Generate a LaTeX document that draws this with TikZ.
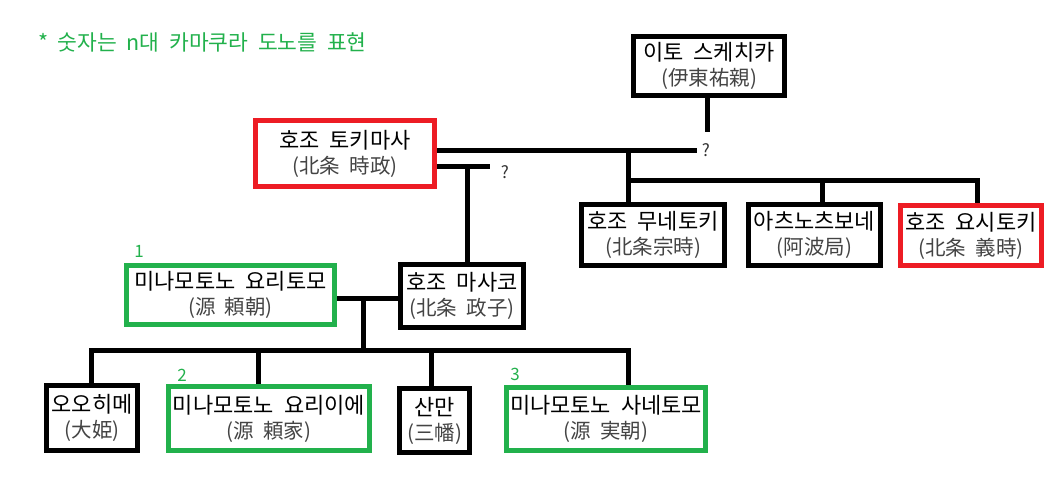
\documentclass[tikz,border=0pt]{standalone}
\usepackage{fontspec}
\usetikzlibrary{backgrounds}
\newfontfamily\kr[WordSpace=2.0]{Noto Sans CJK KR}
\newfontfamily\jp[WordSpace=2.0]{Noto Sans CJK JP}
\definecolor{pgreen}{HTML}{22B14C}
\definecolor{pred}{HTML}{ED1C24}
\definecolor{hzgray}{HTML}{444444}
\newcommand\pnm[2]{\makebox[0pt]{\kr\fontsize{22}{25}\selectfont #1}\\\makebox[0pt]{\jp\fontsize{20.5}{25}\selectfont\color{hzgray}(#2)}}
\tikzset{
  person/.style={draw=black, line width=5pt, align=center, inner sep=0pt, text=black, font=\fontsize{22}{25}\selectfont},
  redperson/.style={person, draw=pred},
  greenperson/.style={person, draw=pgreen},
  link/.style={line width=5pt, draw=black, line join=miter},
  qmark/.style={inner sep=0pt, font=\kr\fontsize{17}{17}\selectfont, text=black!80},
  numlabel/.style={inner sep=0pt, font=\kr\fontsize{17}{17}\selectfont, text=pgreen},
}
\begin{document}
\begin{tikzpicture}[x=1pt,y=-1pt]
\useasboundingbox (0,0) rectangle (1060,486);
% note
\node[anchor=west, inner sep=0pt, text=pgreen, font=\kr\fontsize{21.5}{24}\selectfont] (note) at (38,42) {* 숫자는 n대 카마쿠라 도노를 표현};
% persons
\node[person, minimum width=151pt, minimum height=59pt] (ito) at (709,66) {\pnm{이토 스케치카}{伊東祐親}};
\node[redperson, minimum width=179pt, minimum height=66pt] (tokimasa) at (345,153.5) {\pnm{호조 토키마사}{北条 時政}};
\node[person, minimum width=143pt, minimum height=61pt] (munetoki) at (653,235) {\pnm{호조 무네토키}{北条宗時}};
\node[person, minimum width=132pt, minimum height=61pt] (atsu) at (814.5,235) {\pnm{아츠노츠보네}{阿波局}};
\node[redperson, minimum width=141pt, minimum height=60pt] (yoshitoki) at (971,235.5) {\pnm{호조 요시토키}{北条 義時}};
\node[greenperson, minimum width=208pt, minimum height=59pt] (yoritomo) at (230.5,295) {\pnm{미나모토노 요리토모}{源 頼朝}};
\node[person, minimum width=123pt, minimum height=63pt] (masako) at (462,296) {\pnm{호조 마사코}{北条 政子}};
\node[person, minimum width=91pt, minimum height=65pt] (oohime) at (92,418) {\pnm{오오히메}{大姫}};
\node[greenperson, minimum width=201pt, minimum height=64pt] (yoriie) at (269,418.5) {\pnm{미나모토노 요리이에}{源 頼家}};
\node[person, minimum width=70pt, minimum height=64pt] (sanman) at (434.5,420.5) {\pnm{산만}{三幡}};
\node[greenperson, minimum width=199pt, minimum height=63pt] (sanetomo) at (606,419) {\pnm{미나모토노 사네토모}{源 実朝}};
% labels
\node[qmark] (q1) at (706,150) {?};
\node[qmark] (q2) at (505,172) {?};
\node[numlabel] (n1) at (139,251) {1};
\node[numlabel] (n2) at (182,375) {2};
\node[numlabel] (n3) at (515,374) {3};
% junction coordinates
\coordinate (j1) at (707,132);
\coordinate (aEnd) at (697,151);
\coordinate (bEnd) at (490,167);
\coordinate (bJ) at (467,167);
\coordinate (cT) at (628,151);
\coordinate (cJ) at (628,181);
\coordinate (cM) at (822,181);
\coordinate (cR) at (977,181);
\coordinate (dA) at (363,299);
\coordinate (eM) at (363,350);
\coordinate (e1) at (91,350);
\coordinate (e2) at (258,350);
\coordinate (e3) at (431,350);
\coordinate (e4) at (628,350);
\begin{scope}[on background layer]
\fill[white] (0,0) rectangle (1060,486);
\draw[link] (ito.south -| j1) -- (j1);
\draw[link] (tokimasa.east |- aEnd) -- (aEnd);
\draw[link] (tokimasa.east |- bEnd) -- (bEnd);
\draw[link] (bJ) -- (bJ |- masako.north);
\draw[link] (cT) -- (cJ |- munetoki.north);
\draw[link] (cJ) -- (cR) -- (cR |- yoshitoki.north);
\draw[link] (cM) -- (cM |- atsu.north);
\draw[link] (yoritomo.east |- dA) -- (masako.west |- dA);
\draw[link] (dA) -- (eM);
\draw[link] (e1 |- oohime.north) -- (e1) -- (e4) -- (e4 |- sanetomo.north);
\draw[link] (e2) -- (e2 |- yoriie.north);
\draw[link] (e3) -- (e3 |- sanman.north);
\end{scope}
\end{tikzpicture}
\end{document}
